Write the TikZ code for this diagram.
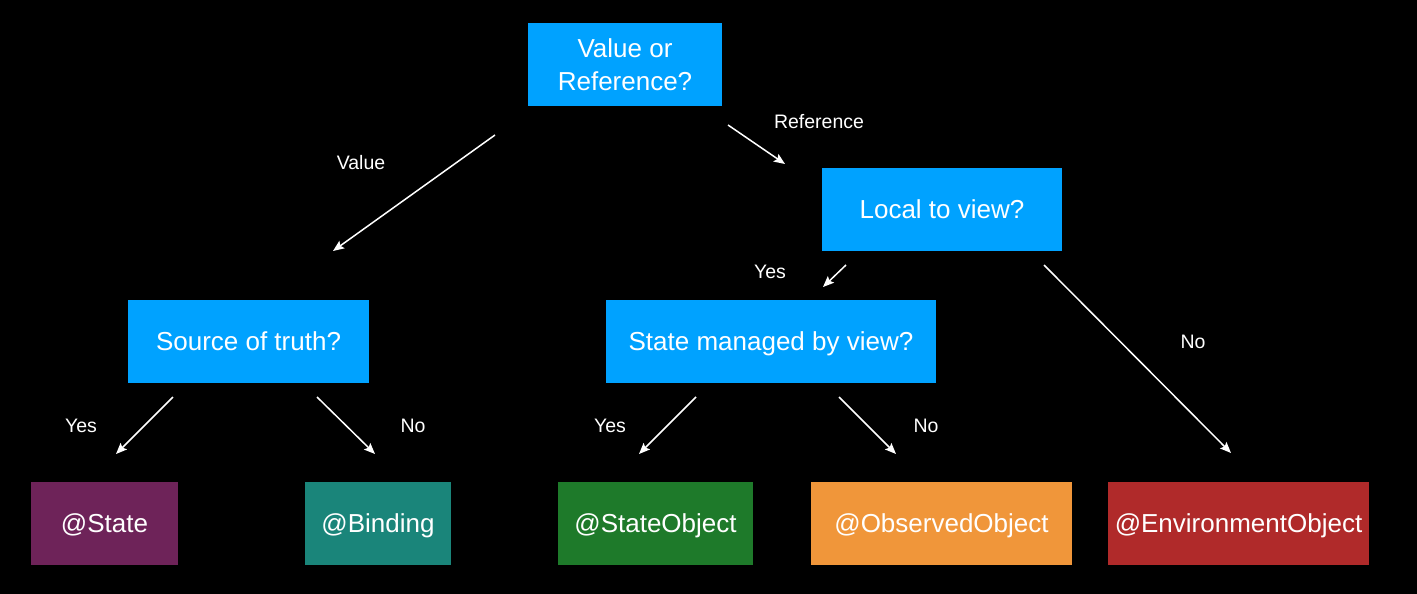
\documentclass[tikz,border=0pt]{standalone}
\usepackage{fontspec}
\setmainfont{Liberation Sans}
\usetikzlibrary{arrows.meta}
\definecolor{qblue}{RGB}{0,162,255}
\definecolor{cstate}{RGB}{110,35,89}
\definecolor{cbinding}{RGB}{26,133,122}
\definecolor{cstobj}{RGB}{30,122,42}
\definecolor{cobs}{RGB}{240,150,58}
\definecolor{cenv}{RGB}{176,42,42}
\tikzset{
  qbox/.style={fill=qblue, text=white, minimum height=83pt, inner sep=0pt, align=center, font=\fontsize{26}{33}\selectfont},
  oneline/.style={text height=22pt, text depth=4pt},
  abox/.style={text=white, minimum height=83pt, inner sep=0pt, oneline, font=\fontsize{26}{30}\selectfont},
  conn/.style={draw=white, line width=1.5pt, -{Stealth[length=11pt,width=9pt,inset=2pt]}},
  lbl/.style={text=white, font=\fontsize{19.5}{22}\selectfont}
}
\begin{document}
\begin{tikzpicture}[x=1pt,y=-1pt]
\fill[black] (0,0) rectangle (1417,594);
\useasboundingbox (0,0) rectangle (1417,594);
% question nodes
\node[qbox, minimum width=194pt] (vr) at (625,64.5) {Value or\\Reference?};
\node[qbox, minimum width=240pt, oneline] (local) at (942,209) {Local to view?};
\node[qbox, minimum width=241pt, oneline] (src) at (248.5,341.5) {Source of truth?};
\node[qbox, minimum width=330pt, oneline] (mgd) at (771,341.5) {State managed by view?};
% answer nodes
\node[abox, fill=cstate, minimum width=147pt] (state) at (104.5,523.5) {@State};
\node[abox, fill=cbinding, minimum width=146pt] (binding) at (378,523.5) {@Binding};
\node[abox, fill=cstobj, minimum width=195pt] (stobj) at (655.5,523.5) {@StateObject};
\node[abox, fill=cobs, minimum width=261pt] (obs) at (941.5,523.5) {@ObservedObject};
\node[abox, fill=cenv, minimum width=261pt] (env) at (1238.5,523.5) {@EnvironmentObject};
% connector endpoints
\coordinate (a1) at (495,135); \coordinate (b1) at (333,251);
\coordinate (a2) at (728,125); \coordinate (b2) at (785,164);
\coordinate (a3) at (846,265); \coordinate (b3) at (823,287);
\coordinate (a4) at (1044,265); \coordinate (b4) at (1231,453);
\coordinate (a5) at (173,397); \coordinate (b5) at (116,454);
\coordinate (a6) at (317,397); \coordinate (b6) at (375,454);
\coordinate (a7) at (696,397); \coordinate (b7) at (639,454);
\coordinate (a8) at (839,397); \coordinate (b8) at (896,454);
\draw[conn] (a1) -- (b1);
\draw[conn] (a2) -- (b2);
\draw[conn] (a3) -- (b3);
\draw[conn] (a4) -- (b4);
\draw[conn] (a5) -- (b5);
\draw[conn] (a6) -- (b6);
\draw[conn] (a7) -- (b7);
\draw[conn] (a8) -- (b8);
% labels
\node[lbl] (l1) at (361,163) {Value};
\node[lbl] (l2) at (819,122) {Reference};
\node[lbl] (l3) at (770,272) {Yes};
\node[lbl] (l4) at (1193,342) {No};
\node[lbl] (l5) at (81,426) {Yes};
\node[lbl] (l6) at (413,426) {No};
\node[lbl] (l7) at (610,426) {Yes};
\node[lbl] (l8) at (926,426) {No};
\end{tikzpicture}
\end{document}
